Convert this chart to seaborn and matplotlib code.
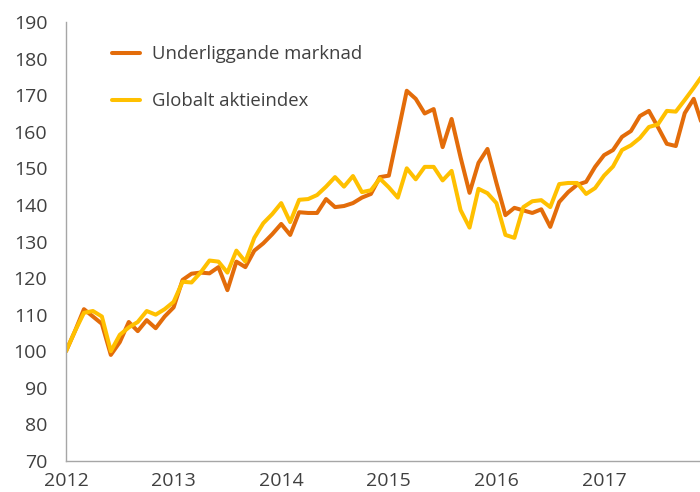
import numpy as np
import pandas as pd
import matplotlib
matplotlib.use("Agg")
import matplotlib.pyplot as plt
import seaborn as sns

# ---- data (monthly index, Jan 2012 = 100) ----
underliggande = [100, 105.5, 111.5, 109.5, 107.5, 99, 102.5, 108, 105.5, 108.5, 106.3, 109.5,
                 112, 119.5, 121.2, 121.5, 121.3, 123, 116.7, 124.5, 123, 127.5, 129.5, 132,
                 134.8, 131.8, 138, 137.8, 137.8, 141.6, 139.4, 139.7, 140.5, 142, 143, 147.6,
                 148, 159.5, 171.2, 169, 165, 166.2, 155.8, 163.5, 153, 143.3, 151.5, 155.3,
                 146, 137.2, 139.2, 138.5, 137.8, 138.8, 134, 140.8, 143.5, 145.5, 146.3, 150.4,
                 153.6, 155, 158.6, 160.2, 164.3, 165.7, 161.3, 156.7, 156.1, 165.1, 169, 161.5]
globalt = [100, 105.5, 110.5, 111, 109.5, 100, 104.5, 106.5, 108, 111, 110, 111.5,
           113.5, 119, 118.8, 121.5, 124.8, 124.5, 121.5, 127.5, 124.5, 131, 135, 137.5,
           140.5, 135.3, 141.4, 141.6, 142.7, 145, 147.6, 145, 147.9, 143.5, 144, 147.2,
           144.8, 142, 150, 147, 150.4, 150.4, 146.7, 149.3, 138.6, 133.8, 144.4, 143.2,
           140.5, 131.8, 131, 139.4, 141, 141.3, 139.4, 145.7, 146, 146, 143, 144.6,
           148, 150.5, 155, 156.3, 158.3, 161.3, 162, 165.7, 165.5, 168.7, 172, 175.5]
series_names = ["Underliggande marknad", "Globalt aktieindex"]
year_ticks = [2012, 2013, 2014, 2015, 2016, 2017]
y_ticks = list(range(70, 191, 10))

months = np.arange(len(underliggande))
t = 2012 + months / 12.0
df = pd.DataFrame({
    "t": np.concatenate([t, t]),
    "value": underliggande + globalt,
    "serie": [series_names[0]] * len(t) + [series_names[1]] * len(t),
})

sns.set_theme(style="white")
plt.rcParams["font.family"] = ["Open Sans", "DejaVu Sans"]

fig = plt.figure(figsize=(7.0, 4.92), dpi=100)
ax = fig.add_axes([66 / 700, 31 / 492, 1 - 66 / 700, (461 - 22) / 492])

palette = {series_names[0]: "#E36C0A", series_names[1]: "#FFC000"}
sns.lineplot(data=df, x="t", y="value", hue="serie", palette=palette,
             linewidth=2.9, ax=ax, legend=False)

ax.set_xlim(2012, 2012 + 70.7 / 12)
ax.set_ylim(70, 190)
ax.set_xticks(year_ticks)
ax.set_xticklabels([str(y) for y in year_ticks])
ax.set_yticks(y_ticks)
ax.set_xlabel("")
ax.set_ylabel("")

for s in ["top", "right"]:
    ax.spines[s].set_visible(False)
for s in ["left", "bottom"]:
    ax.spines[s].set_color("#A6A6A6")
    ax.spines[s].set_linewidth(1.0)

ax.tick_params(axis="both", which="major", direction="out", length=4.5, width=1.0,
               color="#A6A6A6", labelsize=14, labelcolor="#404040")
ax.tick_params(axis="y", pad=9)
ax.tick_params(axis="x", pad=3.5)

from matplotlib.lines import Line2D
handles = [Line2D([0], [0], color=palette[n], lw=2.9) for n in series_names]
ax.legend(handles, series_names, loc="upper left",
          bbox_to_anchor=(112 / 700, (492 - 45) / 492), bbox_transform=fig.transFigure,
          frameon=False, fontsize=13.3, handlelength=1.5, handletextpad=0.65,
          labelspacing=1.58, borderpad=0, borderaxespad=0, labelcolor="#404040")

fig.savefig("out.png", dpi=100)
